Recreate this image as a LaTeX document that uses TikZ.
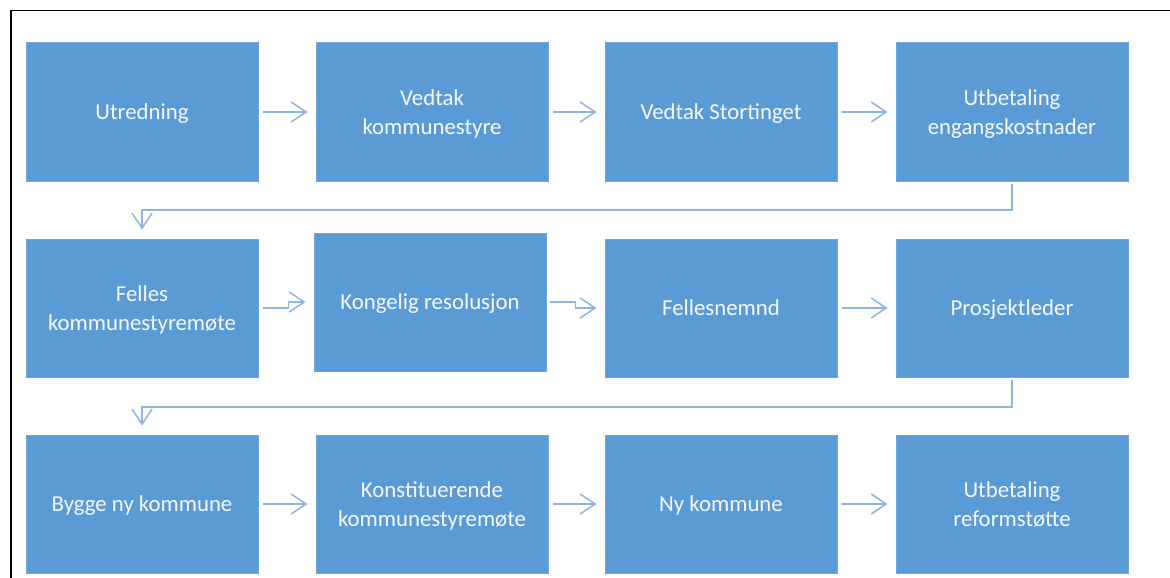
\documentclass[tikz,border=0pt]{standalone}
\usepackage{fontspec}
\setmainfont{Carlito}
\usetikzlibrary{arrows.meta}
\definecolor{boxblue}{HTML}{5B9BD5}
\definecolor{boxedge}{HTML}{6FA7DB}
\definecolor{arrowblue}{HTML}{8EB4E3}
\definecolor{txt}{HTML}{F4F8FD}
\tikzset{
  stepbox/.style={rectangle, fill=boxblue, draw=boxedge, line width=1pt,
    minimum width=232pt, minimum height=138pt, inner sep=0pt,
    text depth=0pt,
    text=txt, align=center, font=\fontsize{22.8}{28.5}\selectfont},
  conn/.style={draw=arrowblue, line width=1.5pt,
    -{Straight Barb[length=15pt,width=20pt,line width=1.5pt]}},
  frame/.style={line width=1.5pt, black}
}
\begin{document}
\begin{tikzpicture}[x=1pt,y=-1pt]
\useasboundingbox (0,0) rectangle (1170,578);
\draw[frame] (11,578) -- (11,10.5) -- (1170,10.5);
% row 1
\node[stepbox] (a1) at (142,112) {Utredning};
\node[stepbox] (a2) at (432,112) {Vedtak\\kommunestyre};
\node[stepbox] (a3) at (721,112) {Vedtak Stortinget};
\node[stepbox] (a4) at (1012,112) {Utbetaling\\engangskostnader};
% row 2
\node[stepbox] (b1) at (142,308) {Felles\\kommunestyremøte};
\node[stepbox] (b2) at (430,302) {Kongelig resolusjon};
\node[stepbox] (b3) at (721,308) {Fellesnemnd};
\node[stepbox] (b4) at (1012,308) {Prosjektleder};
% row 3
\node[stepbox] (c1) at (142,504) {Bygge ny kommune};
\node[stepbox] (c2) at (432,504) {Konstituerende\\kommunestyremøte};
\node[stepbox] (c3) at (721,504) {Ny kommune};
\node[stepbox] (c4) at (1012,504) {Utbetaling\\reformstøtte};
% helper coordinates
\coordinate (r1) at (0,210);
\coordinate (r2) at (0,407);
% row 1 arrows
\draw[conn] ([xshift=4pt]a1.east) -- ([xshift=-8pt]a2.west);
\draw[conn] ([xshift=4pt]a2.east) -- ([xshift=-8pt]a3.west);
\draw[conn] ([xshift=4pt]a3.east) -- ([xshift=-8pt]a4.west);
% row 1 -> row 2
\draw[conn] ([yshift=-2pt]a4.south) -- (a4.south |- r1) -- (b1.north |- r1) -- ([yshift=9pt]b1.north);
% row 2 arrows
\draw[conn] ([xshift=4pt]b1.east) -- ++(26,0) |- ([xshift=-8pt]b2.west);
\draw[conn] ([xshift=3pt]b2.east) -- ++(26,0) |- ([xshift=-8pt]b3.west);
\draw[conn] ([xshift=4pt]b3.east) -- ([xshift=-8pt]b4.west);
% row 2 -> row 3
\draw[conn] ([yshift=-2pt]b4.south) -- (b4.south |- r2) -- (c1.north |- r2) -- ([yshift=9pt]c1.north);
% row 3 arrows
\draw[conn] ([xshift=4pt]c1.east) -- ([xshift=-8pt]c2.west);
\draw[conn] ([xshift=4pt]c2.east) -- ([xshift=-8pt]c3.west);
\draw[conn] ([xshift=4pt]c3.east) -- ([xshift=-8pt]c4.west);
\end{tikzpicture}
\end{document}
